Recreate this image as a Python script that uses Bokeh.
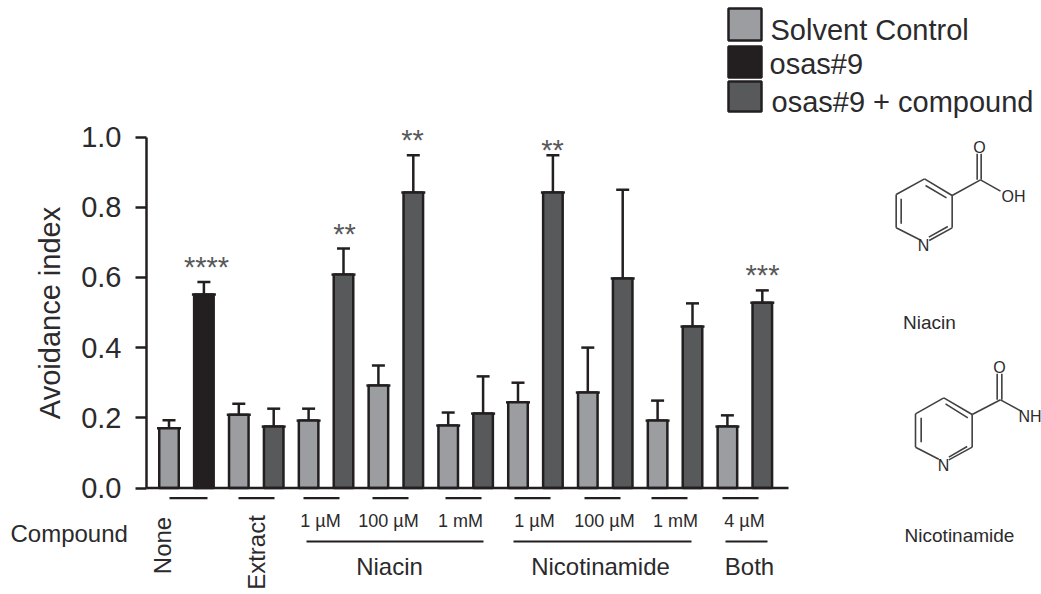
from bokeh.embed import file_html
from bokeh.resources import INLINE
from bokeh.plotting import figure
from bokeh.models import (ColumnDataSource, FixedTicker, Label, LinearAxis, Range1d,
                          TeeHead, Whisker, CustomJSTickFormatter)

# ---- data ----
bar_groups = ["None", "None", "Extract", "Extract", "Niacin 1 µM", "Niacin 1 µM",
              "Niacin 100 µM", "Niacin 100 µM", "Niacin 1 mM", "Niacin 1 mM",
              "Nicotinamide 1 µM", "Nicotinamide 1 µM", "Nicotinamide 100 µM", "Nicotinamide 100 µM",
              "Nicotinamide 1 mM", "Nicotinamide 1 mM", "Both 4 µM", "Both 4 µM"]
bar_series = ["Solvent Control", "osas#9"] + ["Solvent Control", "osas#9 + compound"] * 8
values = [0.170, 0.551, 0.209, 0.175, 0.192, 0.608, 0.292, 0.842, 0.178,
          0.212, 0.244, 0.842, 0.272, 0.597, 0.192, 0.460, 0.175, 0.528]
err_tops = [0.193, 0.587, 0.240, 0.226, 0.226, 0.682, 0.349, 0.948, 0.215,
            0.318, 0.300, 0.948, 0.400, 0.850, 0.249, 0.526, 0.207, 0.563]
y_ticks = [0.0, 0.2, 0.4, 0.6, 0.8, 1.0]
series_colors = {"Solvent Control": "#9c9da0", "osas#9": "#231f20", "osas#9 + compound": "#58595b"}
y_title = "Avoidance index"

# ---- layout: reference-page pixels <-> data ----
W, H = 1041, 594
AX_LEFT, X0, DX = 146, 168.5, 34.9      # axis position, first bar centre, bar pitch
Y0, DY = 487.5, 351.0                   # pixel of value 0, pixels per unit
INK = "#231f20"
TXT = "#2b2a2c"
STAR = "#58595b"
FONT = "Liberation Sans"

def X(px):
    return (px - X0) / DX

def Y(py):
    return (Y0 - py) / DY

p = figure(width=W, height=H, output_backend="svg", toolbar_location=None,
           x_range=Range1d(X(0), X(W)), y_range=Range1d(Y(H), Y(0)),
           x_axis_type=None, y_axis_type=None,
           min_border_left=0, min_border_right=0, min_border_top=0, min_border_bottom=0)
p.outline_line_color = None
p.grid.visible = False
p.background_fill_color = "white"

yaxis = LinearAxis(bounds=(0, 1), ticker=FixedTicker(ticks=y_ticks), fixed_location=X(AX_LEFT),
                   formatter=CustomJSTickFormatter(code="return tick.toFixed(1)"))
yaxis.axis_line_color = INK
yaxis.axis_line_width = 2.5
yaxis.major_tick_line_color = INK
yaxis.major_tick_line_width = 2.5
yaxis.major_tick_in = 0
yaxis.major_tick_out = 11
yaxis.minor_tick_line_color = None
yaxis.major_label_text_font = FONT
yaxis.major_label_text_font_size = "29px"
yaxis.major_label_text_color = TXT
yaxis.major_label_standoff = 14
yaxis.axis_label = y_title
yaxis.axis_label_text_font = FONT
yaxis.axis_label_text_font_size = "29px"
yaxis.axis_label_text_font_style = "normal"
yaxis.axis_label_text_color = TXT
yaxis.axis_label_standoff = 12
p.add_layout(yaxis, "left")

src = ColumnDataSource(dict(x=list(range(len(values))), top=values, err=err_tops,
                            color=[series_colors[s] for s in bar_series]))
p.vbar(x="x", top="top", bottom=0, width=0.56, source=src, fill_color="color",
       line_color=INK, line_width=2.5)
p.add_layout(Whisker(source=src, base="x", upper="err", lower="top",
                     line_color=INK, line_width=2.5,
                     upper_head=TeeHead(size=13, line_color=INK, line_width=2.5),
                     lower_head=TeeHead(size=24, line_color=INK, line_width=2.5)))

def seg(x0, y0, x1, y1, w=2.2, color=INK):
    p.segment(X(x0), Y(y0), X(x1), Y(y1), line_color=color, line_width=w)

def txt(s, px, py, size, align="center", angle=0.0, color=TXT):
    p.add_layout(Label(x=X(px), y=Y(py), text=s, text_font=FONT, text_font_size=f"{size}px",
                       text_color=color, text_align=align, text_baseline="middle", angle=angle))

# x axis line
seg(AX_LEFT, Y0, 788, Y0, 2.5)

# treatment underlines
for a, b in [(169, 207), (238, 274), (303, 339), (372, 408), (445, 481),
             (514, 550), (584, 620), (651, 687), (722, 758)]:
    seg(a, 497.7, b, 497.7)
for a, b in [(306, 483), (513, 691), (725, 767)]:
    seg(a, 541, b, 541)

# group labels
txt("Compound", 10, 533, 24, "left")
txt("None", 162, 545, 24, angle=1.5708)
txt("Extract", 256, 552, 24, angle=1.5708)
for s, c in [("1 µM", 320), ("100 µM", 388), ("1 mM", 460), ("1 µM", 534),
             ("100 µM", 604), ("1 mM", 675), ("4 µM", 744)]:
    txt(s, c, 520, 18)
for s, c in [("Niacin", 389), ("Nicotinamide", 600), ("Both", 749)]:
    txt(s, c, 566, 24)

# significance
for s, c, y in [("****", 206, 266), ("**", 344, 233), ("**", 412, 139), ("**", 552, 149), ("***", 762, 274)]:
    txt(s, c, y, 29, color=STAR)

# legend
for name, y0, y1, ty, tx in [("Solvent Control", 8, 40, 29, 770), ("osas#9", 46, 77, 63, 769),
                             ("osas#9 + compound", 81, 111, 101, 771)]:
    p.quad(left=X(728), right=X(761), top=Y(y0), bottom=Y(y1), fill_color=series_colors[name],
           line_color=INK, line_width=2.5)
    txt(name, tx, ty, 29, "left")

# molecules (zoom-crop coordinates: offset + z/3)
def mol(ox, oy, bonds):
    f = lambda q: (ox + q[0] / 3, oy + q[1] / 3)
    for a, b in bonds:
        seg(*f(a), *f(b), 1.6, "#404042")

mol(860, 120, [((178, 358), (107, 322)), ((107, 322), (107, 222)), ((107, 222), (192, 175)),
               ((192, 175), (275, 225)), ((275, 225), (275, 322)), ((275, 322), (206, 360)),
               ((122, 235), (122, 310)), ((195, 195), (258, 232)), ((262, 318), (205, 350)),
               ((275, 225), (360, 178)), ((350, 100), (350, 178)), ((362, 100), (362, 178)),
               ((360, 178), (420, 212))])
txt("O", 979, 147, 16)
txt("OH", 1013, 196, 16)
txt("N", 923, 245, 16)
txt("Niacin", 929, 322, 19)

mol(860, 340, [((235, 356), (165, 320)), ((165, 320), (165, 220)), ((165, 220), (250, 172)),
               ((250, 172), (335, 222)), ((335, 222), (335, 320)), ((335, 320), (265, 358)),
               ((182, 232), (182, 305)), ((255, 190), (322, 232)), ((320, 318), (265, 350)),
               ((335, 222), (420, 178)), ((410, 100), (410, 178)), ((424, 100), (424, 178)),
               ((420, 178), (482, 212))])
txt("O", 999, 367, 16)
txt("NH", 1018, 416, 16, "left")
txt("N", 943, 465, 16)
txt("Nicotinamide", 959, 535, 19)

open("out.html", "w").write(file_html(p, INLINE))
